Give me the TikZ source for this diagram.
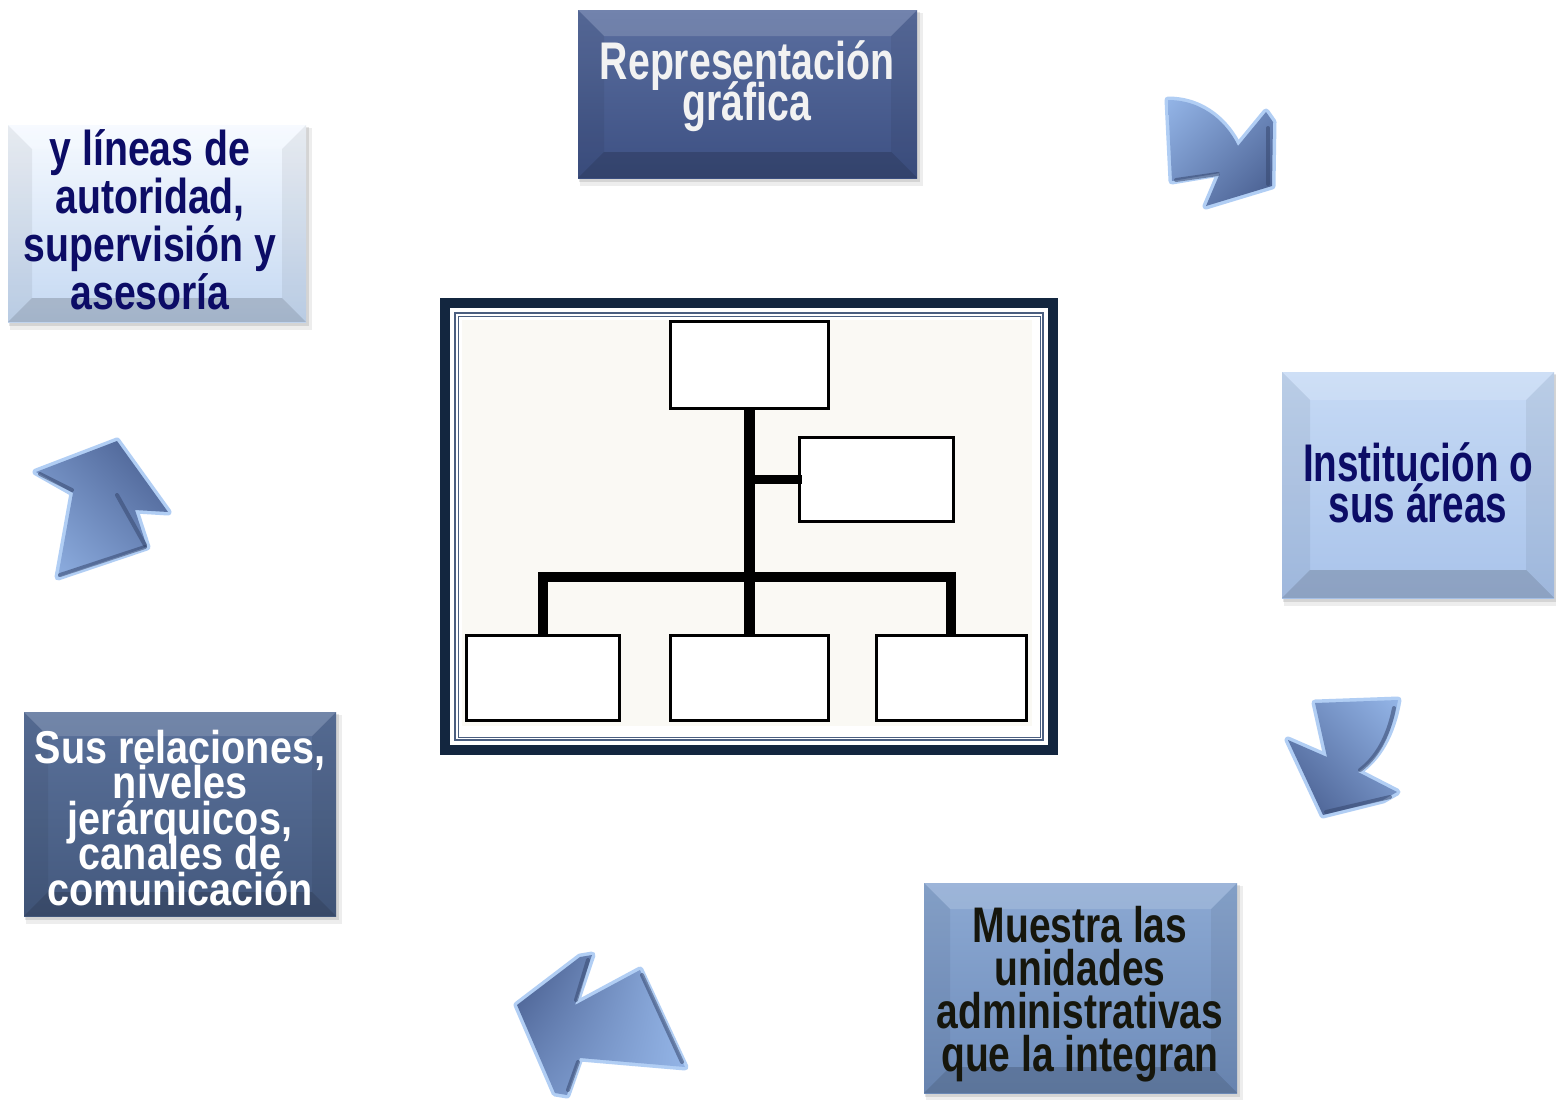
\documentclass[tikz,border=0pt]{standalone}
\usepackage{fontspec}
\usetikzlibrary{shadings}
\newfontfamily\fRep{Liberation Sans}[FakeStretch=0.74]
\newfontfamily\fLin{Liberation Sans}[FakeStretch=0.80]
\newfontfamily\fIns{Liberation Sans}[FakeStretch=0.73]
\newfontfamily\fSus{Liberation Sans}[FakeStretch=0.86]
\newfontfamily\fMue{Liberation Sans}[FakeStretch=0.78]

\definecolor{navyframe}{HTML}{13263F}
\definecolor{frameline}{HTML}{4A5E80}
\definecolor{chartbg}{HTML}{FAF9F4}
\definecolor{repT}{HTML}{5A6E9F}
\definecolor{repB}{HTML}{3D5083}
\definecolor{linT}{HTML}{F6FAFF}
\definecolor{linB}{HTML}{C4D8F2}
\definecolor{insT}{HTML}{C6DAF5}
\definecolor{insB}{HTML}{A9C3EA}
\definecolor{susT}{HTML}{5A719A}
\definecolor{susB}{HTML}{44597E}
\definecolor{mueT}{HTML}{8CA9D3}
\definecolor{mueB}{HTML}{6E8CBA}
\definecolor{txtnavy}{HTML}{0C0C66}
\definecolor{txtdark}{HTML}{16160C}
\definecolor{txtlight}{HTML}{F2F2F2}
\definecolor{arL}{HTML}{93B4E6}
\definecolor{arM}{HTML}{6D89BC}
\definecolor{arD}{HTML}{44598A}
\definecolor{arGlow}{HTML}{9EC2F2}

\newcommand\bevbox[7]{%
  \fill[black,opacity=.07] (#1+2,#2+3) rectangle (#3+6,#4+8);
  \fill[black,opacity=.10] (#1+1,#2+2) rectangle (#3+3,#4+4);
  \shade[top color=#6,bottom color=#7] (#1,#2) rectangle (#3,#4);
  \fill[white,opacity=.15] (#1,#2) -- (#3,#2) -- (#3-#5,#2+#5) -- (#1+#5,#2+#5) -- cycle;
  \fill[black,opacity=.17] (#1,#4) -- (#3,#4) -- (#3-#5,#4-#5) -- (#1+#5,#4-#5) -- cycle;
  \fill[black,opacity=.06] (#1,#2) -- (#1+#5,#2+#5) -- (#1+#5,#4-#5) -- (#1,#4) -- cycle;
  \fill[black,opacity=.06] (#3,#2) -- (#3-#5,#2+#5) -- (#3-#5,#4-#5) -- (#3,#4) -- cycle;
}

\tikzset{
  boxtext/.style={align=center,inner sep=0pt},
  orgbox/.style={draw=black,line width=3pt,fill=white,inner sep=0pt,outer sep=0pt},
  orgline/.style={line width=10pt,black,line join=miter},
  glow/.style={draw=arGlow,line width=7pt,line join=round,opacity=.8},
  edge3d/.style={draw=arD!80!black,line width=4pt,opacity=.55,line cap=round},
}
\newcommand\tightlines{\lineskiplimit=-100pt\lineskip=0pt}

\def\arrowA{(1168,100) .. controls (1205,100) and (1228,125) .. (1238,146) -- (1266,112) -- (1273,122) -- (1272,186) -- (1206,206) -- (1220,173) -- (1172,181) -- cycle}
\def\arrowB{(36,472) -- (117,441) -- (168,512) -- (135,510) -- (147,547) -- (58,577) -- (73,493) -- cycle}
\def\arrowC{(517,1005) -- (580,957) -- (592,955) -- (575,1005) -- (640,970) -- (685,1067) -- (580,1058) -- (567,1095) -- (555,1093) -- cycle}
\def\arrowD{(1315,703) -- (1398,700) .. controls (1392,735) and (1378,758) .. (1358,772) -- (1397,792) -- (1383,800) -- (1323,815) -- (1288,740) -- (1327,757) -- cycle}

\begin{document}
\begin{tikzpicture}[x=1pt,y=-1pt]
\useasboundingbox (0,0) rectangle (1556,1100);
\fill[white] (0,0) rectangle (1556,1100);

% ---- central organisation chart ----
\fill[navyframe] (440,298) rectangle (1058,755);
\fill[white] (450,308) rectangle (1048,745);
\draw[frameline,line width=1.6pt] (455,313) rectangle (1043,740);
\draw[frameline,line width=0.8pt] (458,316) rectangle (1040,737);
\fill[chartbg] (462,320) rectangle (1032,726);

\coordinate (bar) at (749,577);
\node[orgbox,minimum width=158pt,minimum height=87pt] (top) at (749,364.5) {};
\node[orgbox,minimum width=154pt,minimum height=84pt] (side) at (876,479) {};
\node[orgbox,minimum width=153pt,minimum height=85pt] (bl) at (542.5,677.5) {};
\node[orgbox,minimum width=158pt,minimum height=85pt] (bm) at (749,677.5) {};
\node[orgbox,minimum width=150pt,minimum height=85pt] (br) at (951,677.5) {};

\draw[orgline,line width=11pt] (top.south) -- (bm.north);
\draw[orgline,line width=9pt] (top.south |- side.west) -- ([xshift=3pt]side.west);
\draw[orgline] (bl.north) -- (bl.north |- bar) -- (br.north |- bar) -- (br.north);
\draw[orgbox,fill=none] (side.north west) rectangle (side.south east);

% ---- text boxes ----
\bevbox{578}{10}{917}{178}{26}{repT}{repB}
\node[boxtext,text=txtlight,font=\fRep\bfseries\fontsize{53}{41}\selectfont\tightlines] (rep) at (747,86) {Representación\\gráfica};

\bevbox{8}{125}{306}{322}{24}{linT}{linB}
\node[boxtext,text=txtnavy,font=\fLin\bfseries\fontsize{49}{48}\selectfont\tightlines] (lin) at (150,220) {y líneas de\\autoridad,\\supervisión y\\asesoría};

\bevbox{1282}{372}{1554}{598}{28}{insT}{insB}
\node[boxtext,text=txtnavy,font=\fIns\bfseries\fontsize{53}{41}\selectfont\tightlines] (ins) at (1418,483) {Institución o\\sus áreas};

\bevbox{24}{712}{336}{916}{24}{susT}{susB}
\node[boxtext,text=white,font=\fSus\bfseries\fontsize{46}{35.5}\selectfont\tightlines] (sus) at (180,818) {Sus relaciones,\\niveles\\jerárquicos,\\canales de\\comunicación};

\bevbox{924}{883}{1237}{1093}{26}{mueT}{mueB}
\node[boxtext,text=txtdark,font=\fMue\bfseries\fontsize{50}{43}\selectfont\tightlines] (mue) at (1080,994) {Muestra las\\unidades\\administrativas\\que la integran};

% ---- cycle arrows ----
\path[glow] \arrowA;
\shade[upper left=arL,upper right=arM,lower left=arM,lower right=arD] \arrowA;
\draw[edge3d] (1176,180) -- (1218,174);
\draw[edge3d] (1268,128) -- (1268,184);

\path[glow] \arrowB;
\shade[upper left=arM,upper right=arD,lower left=arL,lower right=arM] \arrowB;
\draw[edge3d] (60,575) -- (145,547);
\draw[edge3d] (117,495) -- (145,545);
\draw[edge3d] (40,474) -- (72,490);

\path[glow] \arrowC;
\shade[upper left=arD,upper right=arL,lower left=arM,lower right=arL] \arrowC;
\draw[edge3d] (588,960) -- (576,1000);
\draw[edge3d] (642,975) -- (682,1062);
\draw[edge3d] (578,1062) -- (568,1090);

\path[glow] \arrowD;
\shade[upper left=arM,upper right=arL,lower left=arD,lower right=arM] \arrowD;
\draw[edge3d] (1394,708) .. controls (1388,738) and (1376,758) .. (1360,770);
\draw[edge3d] (1326,812) -- (1390,797);
\end{tikzpicture}
\end{document}
